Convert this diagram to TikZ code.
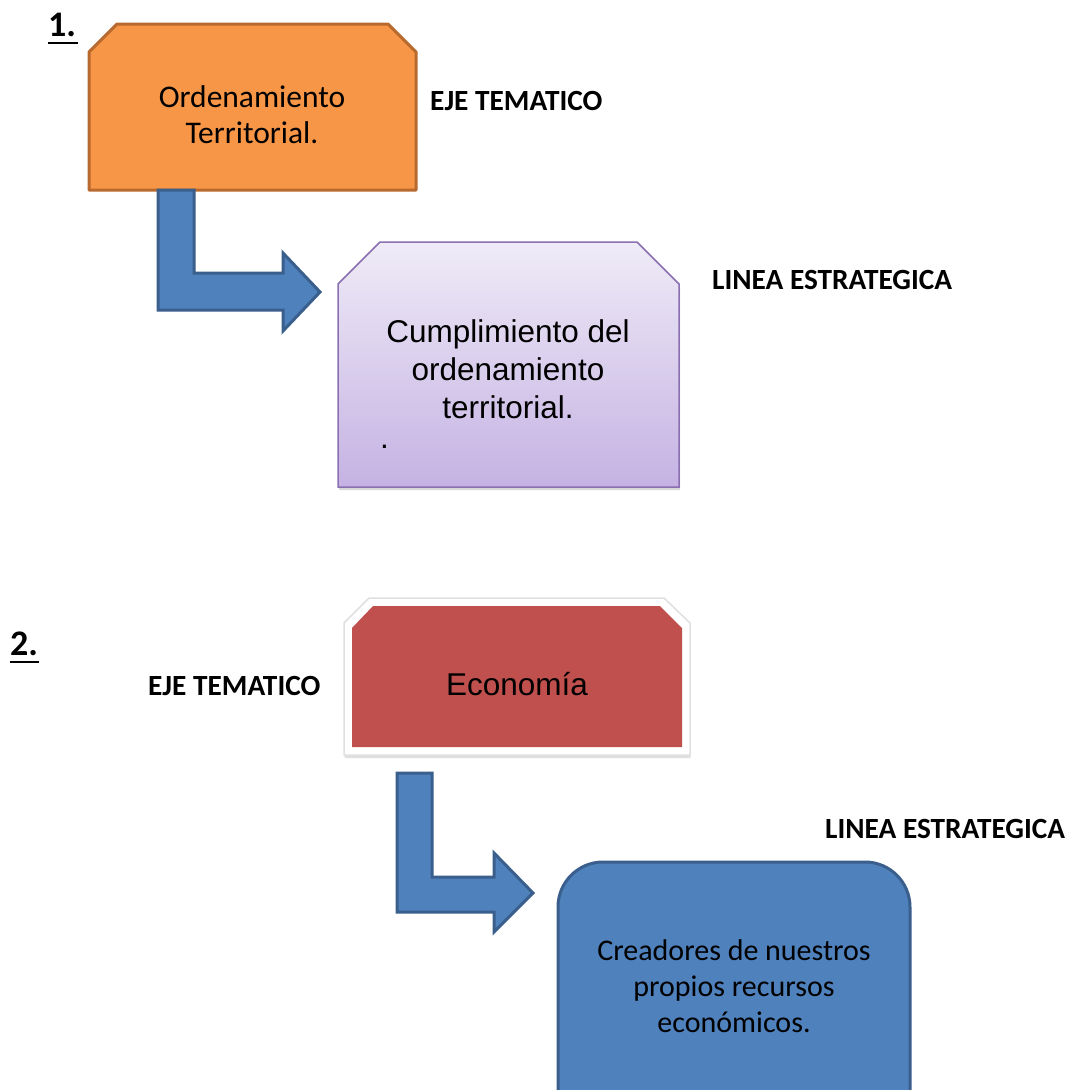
\documentclass[tikz,border=0pt]{standalone}
\usepackage{fontspec}
\setmainfont{Carlito}
\newfontfamily\arialf{Liberation Sans}
\usetikzlibrary{shadows}
\definecolor{orfill}{HTML}{F79646}
\definecolor{ordraw}{HTML}{B8692E}
\definecolor{blfill}{HTML}{4F81BD}
\definecolor{bldraw}{HTML}{3A5F8C}
\definecolor{putop}{HTML}{EFEBF7}
\definecolor{pubot}{HTML}{C5B2E3}
\definecolor{pudraw}{HTML}{8A70B0}
\definecolor{redfill}{HTML}{C0504D}
\begin{document}
\begin{tikzpicture}[x=1pt,y=-1pt,
  lbl/.style={font=\fontsize{29.3}{35}\selectfont\bfseries, anchor=base west, inner sep=0pt},
  numlbl/.style={font=\fontsize{36}{40}\selectfont\bfseries, anchor=base west, inner sep=0pt},
  ulline/.style={line width=2.5pt},
  cal/.style={font=\fontsize{30}{36}\selectfont, anchor=base, inner sep=0pt},
  calbig/.style={font=\fontsize{31.5}{36}\selectfont, anchor=base, inner sep=0pt},
  ari/.style={font=\arialf\fontsize{31.5}{38}\selectfont, anchor=base, inner sep=0pt},
  orbox/.style={fill=orfill, draw=ordraw, line width=3pt, line join=round},
  blockarrow/.style={fill=blfill, draw=bldraw, line width=3pt, line join=miter},
  pubox/.style={top color=putop, bottom color=pubot, draw=pudraw, line width=1.5pt,
    drop shadow={opacity=0.3, shadow xshift=1pt, shadow yshift=-3pt}},
  whitebox/.style={fill=white, draw=black!12, line width=1.5pt, line join=round,
    drop shadow={opacity=0.25, shadow xshift=0.5pt, shadow yshift=-3pt}},
  redbox/.style={fill=redfill},
  blbox/.style={fill=blfill, draw=bldraw, line width=3pt, rounded corners=45pt}]
\useasboundingbox (0,0) rectangle (1071,1090);
\clip (0,0) rectangle (1071,1090);
\fill[white] (0,0) rectangle (1071,1090);

% ---------- Section 1 ----------
\node[numlbl] (n1) at (48,36) {1.};
\draw[ulline] ([yshift=-7pt]n1.base west) -- ([yshift=-7pt,xshift=2pt]n1.base east);
\draw[orbox] (89,190) -- (89,52) -- (117,24) -- (388,24) -- (416,52) -- (416,190) -- cycle;
\node[calbig] (t1a) at (252,107) {Ordenamiento};
\node[calbig] (t1b) at (252,143) {Territorial.};
\node[lbl] (eje1) at (430,110) {EJE TEMATICO};

\draw[blockarrow] (158,190) -- (194,190) -- (194,273) -- (283,273) -- (283,253) -- (320,292)
  -- (283,331) -- (283,310) -- (158,310) -- cycle;

\path[pubox] (338,487) -- (338,284) -- (380,242) -- (637,242) -- (679,284) -- (679,487) -- cycle;
\node[ari] (t2a) at (508,342) {Cumplimiento del};
\node[ari] (t2b) at (508,380) {ordenamiento};
\node[ari] (t2c) at (508,418) {territorial.};
\node[ari, anchor=base west] (dot) at (380,448) {.};
\node[lbl] (lin1) at (712,289) {LINEA ESTRATEGICA};

% ---------- Section 2 ----------
\node[numlbl] (n2) at (10,655) {2.};
\draw[ulline] ([yshift=-7pt]n2.base west) -- ([yshift=-7pt,xshift=1pt]n2.base east);
\node[lbl] (eje2) at (148,695) {EJE TEMATICO};
\path[whitebox] (344,755) -- (344,623) -- (369,598) -- (664,598) -- (690,623) -- (690,755) -- cycle;
\path[redbox] (352,747) -- (352,628) -- (373,606) -- (660,606) -- (682,628) -- (682,747) -- cycle;
\node[ari] (t3) at (517,695) {Economía};

\draw[blockarrow] (397,773) -- (432,773) -- (432,877) -- (494,877) -- (494,853) -- (533,893)
  -- (494,932) -- (494,912) -- (397,912) -- cycle;

\node[lbl] (lin2) at (825,838) {LINEA ESTRATEGICA};
\draw[blbox] (558,862) rectangle (910,1140);
\node[cal] (t4a) at (734,960) {Creadores de nuestros};
\node[cal] (t4b) at (734,996) {propios recursos};
\node[cal] (t4c) at (734,1032) {económicos.};
\end{tikzpicture}
\end{document}
